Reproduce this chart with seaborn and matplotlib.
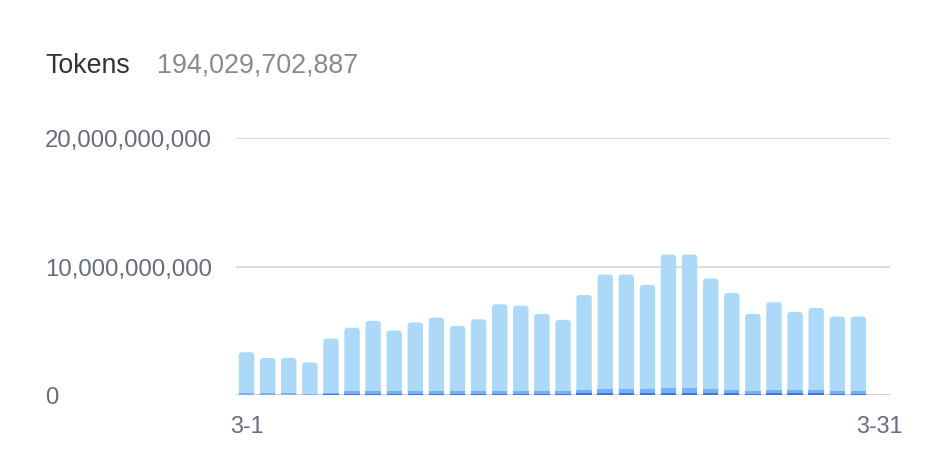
import numpy as np
import pandas as pd
import matplotlib
matplotlib.use("Agg")
import matplotlib.pyplot as plt
import seaborn as sns
from matplotlib.path import Path
from matplotlib.patches import PathPatch

# ---- data (values in billions of tokens) ----
days = ["3-1", "3-2", "3-3", "3-4", "3-5", "3-6", "3-7", "3-8", "3-9", "3-10",
        "3-11", "3-12", "3-13", "3-14", "3-15", "3-16", "3-17", "3-18", "3-19", "3-20",
        "3-21", "3-22", "3-23", "3-24", "3-25", "3-26", "3-27", "3-28", "3-29", "3-30",
        "3-31"]
light = [3.19, 2.74, 2.74, 2.44, 4.21, 4.94, 5.47, 4.71, 5.34, 5.72,
         5.07, 5.59, 6.71, 6.60, 5.96, 5.50, 7.36, 8.87, 8.87, 8.11,
         10.37, 10.37, 8.56, 7.52, 5.99, 6.85, 6.10, 6.40, 5.78, 5.78]
mid = [0.12, 0.12, 0.12, 0.08, 0.10, 0.20, 0.20, 0.20, 0.20, 0.20,
       0.20, 0.20, 0.25, 0.25, 0.25, 0.25, 0.30, 0.35, 0.35, 0.30,
       0.40, 0.40, 0.35, 0.30, 0.22, 0.25, 0.25, 0.25, 0.22, 0.22]
dark = [0.02, 0.02, 0.02, 0.02, 0.08, 0.10, 0.10, 0.10, 0.10, 0.10,
        0.10, 0.10, 0.10, 0.10, 0.10, 0.10, 0.12, 0.15, 0.15, 0.15,
        0.16, 0.16, 0.15, 0.12, 0.10, 0.12, 0.12, 0.12, 0.10, 0.10]
y_ticks = [0, 10e9, 20e9]
y_tick_labels = ["0", "10,000,000,000", "20,000,000,000"]
x_tick_labels = ["3-1", "3-31"]
title = "Tokens"
total_text = "194,029,702,887"

LIGHT = "#acd9f8"
MID = "#78b2f3"
DARK = "#3a76e2"
TICK_COLOR = "#676b7c"

sns.set_theme(style="white")
plt.rcParams["font.family"] = ["Liberation Sans", "DejaVu Sans"]

W, H = 946, 460
fig = plt.figure(figsize=(W / 100, H / 100), dpi=100)
ax_left, ax_right, ax_bottom, ax_top = 236, 890, 396, 139
ax = fig.add_axes([ax_left / W, (H - ax_bottom) / H,
                   (ax_right - ax_left) / W, (ax_bottom - ax_top) / H])

n = len(light)
df = pd.DataFrame({
    "day": days[:n],
    "light": np.array(light) * 1e9,
    "mid": np.array(mid) * 1e9,
    "dark": np.array(dark) * 1e9,
})
df["total"] = df["light"] + df["mid"] + df["dark"]
df["lower"] = df["mid"] + df["dark"]

bw = 0.73
sns.barplot(data=df, x="day", y="total", order=days, color=LIGHT, width=bw,
            saturation=1, errorbar=None, linewidth=0, ax=ax, zorder=2)
light_patches = list(ax.patches)
sns.barplot(data=df, x="day", y="lower", order=days, color=MID, width=bw,
            saturation=1, errorbar=None, linewidth=0, ax=ax, zorder=3)
sns.barplot(data=df, x="day", y="dark", order=days, color=DARK, width=bw,
            saturation=1, errorbar=None, linewidth=0, ax=ax, zorder=4)

ax.set_xlim(-0.5, len(days) - 0.5)
ax.set_ylim(0, 20e9)

# rounded top corners on the light bars
px_x = (ax_right - ax_left) / len(days)
px_y = (ax_bottom - ax_top) / 20e9
r = 3.5
rx, ry = r / px_x, r / px_y
for p in light_patches:
    x0, y0 = p.get_x(), p.get_y()
    w, h = p.get_width(), p.get_height()
    if not np.isfinite(h) or h <= 0:
        continue
    x1, y1 = x0 + w, y0 + h
    verts = [(x0, y0), (x0, y1 - ry), (x0, y1), (x0 + rx, y1), (x1 - rx, y1),
             (x1, y1), (x1, y1 - ry), (x1, y0), (x0, y0)]
    codes = [Path.MOVETO, Path.LINETO, Path.CURVE3, Path.CURVE3, Path.LINETO,
             Path.CURVE3, Path.CURVE3, Path.LINETO, Path.CLOSEPOLY]
    pp = PathPatch(Path(verts, codes), facecolor=p.get_facecolor(),
                   edgecolor="none", linewidth=0, zorder=2)
    p.remove()
    ax.add_patch(pp)

# grid & axes
ax.set_yticks(y_ticks)
ax.set_yticklabels(y_tick_labels)
ax.set_xticks([0, len(days) - 1])
ax.set_xticklabels(x_tick_labels)
ax.set_xlabel("")
ax.set_ylabel("")
for s in ax.spines.values():
    s.set_visible(False)
ax.grid(axis="y", color="#d6d9e2", linewidth=1.3, zorder=0)
ax.grid(axis="x", visible=False)
ax.set_axisbelow(True)
ax.axhline(0, color="#cdd0da", linewidth=2.0, zorder=1)

ax.tick_params(axis="y", length=0, pad=191 * 0.72, labelsize=17.3,
               labelcolor=TICK_COLOR)
for lbl in ax.get_yticklabels():
    lbl.set_horizontalalignment("left")
ax.tick_params(axis="x", length=0, pad=13.5, labelsize=16.8,
               labelcolor=TICK_COLOR)

fig.text(45 / W, 1 - 66 / H, title, fontsize=19.3, color="#333333",
         ha="left", va="center")
fig.text(157 / W, 1 - 66 / H, total_text, fontsize=19.4, color="#8a8a8a",
         ha="left", va="center")

fig.savefig("out.png", dpi=100, facecolor="white")
